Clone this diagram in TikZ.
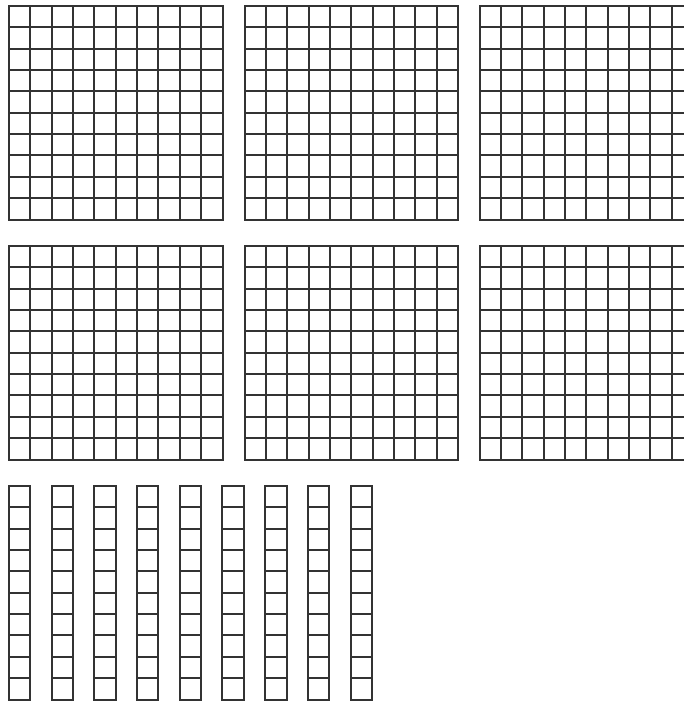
\documentclass[tikz,border=0pt]{standalone}
\begin{document}
\begin{tikzpicture}[x=1pt,y=-1pt,
  gridline/.style={line width=2pt, black!80, line cap=rect}]
\useasboundingbox (0,0) rectangle (684,701);
\clip (0,0) rectangle (684,701);
\def\cellw{21.35}
% hundreds (10x10 squares)
\foreach \gx in {9,244.5,479.5}{
  \foreach \gy in {6,246}{
    \pgfmathsetmacro{\xa}{round(\gx)}
    \pgfmathsetmacro{\xb}{round(\gx+10*\cellw)}
    \pgfmathsetmacro{\ya}{round(\gy)}
    \pgfmathsetmacro{\yb}{round(\gy+10*\cellw)}
    \foreach \i in {0,...,10}{
      \pgfmathsetmacro{\px}{round(\gx+\i*\cellw)}
      \pgfmathsetmacro{\py}{round(\gy+\i*\cellw)}
      \draw[gridline] (\px,\ya) -- (\px,\yb);
      \draw[gridline] (\xa,\py) -- (\xb,\py);
    }
  }
}
% tens (rods of 10)
\foreach \k in {0,...,8}{
  \pgfmathsetmacro{\rxa}{round(9+\k*42.7)}
  \pgfmathsetmacro{\rxb}{round(9+\k*42.7+\cellw)}
  \pgfmathsetmacro{\ryb}{round(486+10*\cellw)}
  \draw[gridline] (\rxa,486) rectangle (\rxb,\ryb);
  \foreach \i in {1,...,9}{
    \pgfmathsetmacro{\py}{round(486+\i*\cellw)}
    \draw[gridline] (\rxa,\py) -- (\rxb,\py);
  }
}
\end{tikzpicture}
\end{document}
